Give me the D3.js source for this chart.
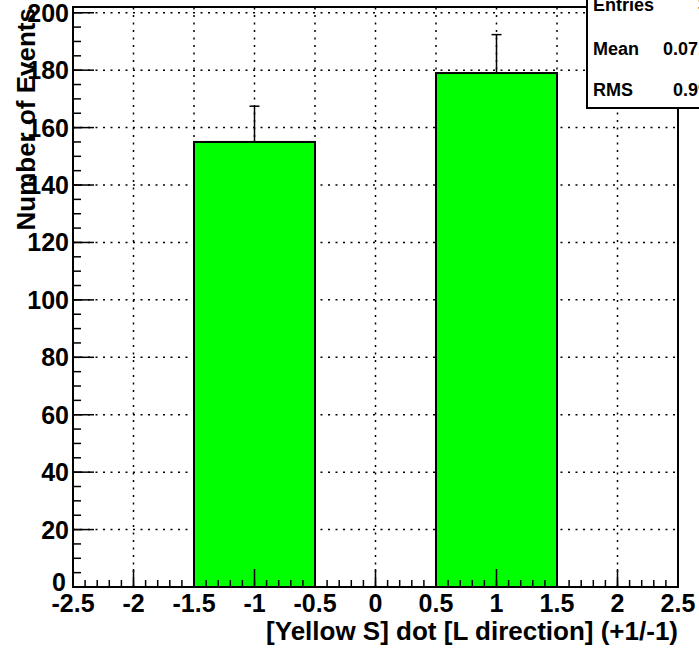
<!DOCTYPE html>
<html>
<head>
<meta charset="utf-8">
<script src="https://cdn.jsdelivr.net/npm/d3@7"></script>
<style>
  html, body { margin: 0; padding: 0; background: #fff; }
  svg { display: block; }
  text { font-family: "Liberation Sans", Arial, Helvetica, sans-serif; font-weight: bold; fill: #000; }
</style>
</head>
<body>
<svg id="chart" width="699" height="661"></svg>
<script>
// ---- data ----
const binLow    = [-2.5, -1.5, -0.5, 0.5, 1.5];
const binHigh   = [-1.5, -0.5,  0.5, 1.5, 2.5];
const counts    = [0, 155, 0, 179, 0];
const errors    = [0, 12.45, 0, 13.38, 0];
const xTicks    = [-2.5, -2, -1.5, -1, -0.5, 0, 0.5, 1, 1.5, 2, 2.5];
const xTickLabels = ["-2.5", "-2", "-1.5", "-1", "-0.5", "0", "0.5", "1", "1.5", "2", "2.5"];
const yTicks    = [0, 20, 40, 60, 80, 100, 120, 140, 160, 180, 200];
const statNames  = ["Entries", "Mean", "RMS"];
const statValues = ["334", "0.07186", "0.9974"];
const xTitle = "[Yellow S] dot [L direction] (+1/-1)";
const yTitle = "Number of Events";

// ---- layout ----
const svg = d3.select("#chart");
const L = 73, R = 678, T = 7, B = 587;
const x = d3.scaleLinear().domain([-2.5, 2.5]).range([L, R]);
const y = d3.scaleLinear().domain([0, 202]).range([B, T]);

// grid
const xMinor = d3.range(-2.5, 2.5001, 0.1);
const yMinor = d3.range(0, 201, 5);
const grid = svg.append("g").attr("stroke", "#000").attr("stroke-width", 1.5).attr("stroke-dasharray", "2,5.5");
grid.selectAll("line.gx").data(xTicks.slice(1, -1)).enter().append("line")
  .attr("x1", d => x(d)).attr("x2", d => x(d)).attr("y1", B).attr("y2", T);
grid.selectAll("line.gy").data(yTicks.slice(1)).enter().append("line")
  .attr("x1", L).attr("x2", R).attr("y1", d => y(d)).attr("y2", d => y(d));

// bars
const bins = counts.map((c, i) => ({lo: binLow[i], hi: binHigh[i], c, e: errors[i]})).filter(d => d.c > 0);
svg.append("g").selectAll("rect").data(bins).enter().append("rect")
  .attr("x", d => x(d.lo)).attr("y", d => y(d.c))
  .attr("width", d => x(d.hi) - x(d.lo)).attr("height", d => y(0) - y(d.c))
  .attr("fill", "#00ff00").attr("stroke", "#000").attr("stroke-width", 2);

// error bars
const eb = svg.append("g").attr("stroke", "#000").attr("stroke-width", 1.5);
bins.forEach(d => {
  const cx = x((d.lo + d.hi) / 2);
  eb.append("line").attr("x1", cx).attr("x2", cx).attr("y1", y(d.c)).attr("y2", y(d.c + d.e));
  eb.append("line").attr("x1", cx - 5).attr("x2", cx + 5).attr("y1", y(d.c + d.e)).attr("y2", y(d.c + d.e));
});

// frame
svg.append("rect").attr("x", L).attr("y", T).attr("width", R - L).attr("height", B - T)
  .attr("fill", "none").attr("stroke", "#000").attr("stroke-width", 2);

// ticks
const tk = svg.append("g").attr("stroke", "#000").attr("stroke-width", 1.5);
tk.selectAll("line.xm").data(xMinor).enter().append("line")
  .attr("x1", d => x(d)).attr("x2", d => x(d)).attr("y1", B).attr("y2", B - 7);
tk.selectAll("line.xM").data(xTicks).enter().append("line")
  .attr("x1", d => x(d)).attr("x2", d => x(d)).attr("y1", B).attr("y2", B - 18);
tk.selectAll("line.ym").data(yMinor).enter().append("line")
  .attr("x1", L).attr("x2", L + 8).attr("y1", d => y(d)).attr("y2", d => y(d));
tk.selectAll("line.yM").data(yTicks).enter().append("line")
  .attr("x1", L).attr("x2", L + 21).attr("y1", d => y(d)).attr("y2", d => y(d));

// tick labels
svg.append("g").selectAll("text").data(xTicks).enter().append("text")
  .attr("x", d => x(d)).attr("y", 612).attr("text-anchor", "middle")
  .attr("font-size", 25).text((d, i) => xTickLabels[i]);
svg.append("g").selectAll("text").data(yTicks).enter().append("text")
  .attr("x", d => d === 0 ? 66 : 69).attr("y", d => d === 0 ? y(d) + 4 : y(d) + 9).attr("text-anchor", "end")
  .attr("font-size", 25).text(d => d);

// axis titles
svg.append("text").attr("x", R).attr("y", 640).attr("text-anchor", "end")
  .attr("font-size", 26).text(xTitle);
svg.append("text").attr("transform", "translate(35,8) rotate(-90)").attr("text-anchor", "end")
  .attr("font-size", 26).text(yTitle);

// stats box
svg.append("rect").attr("x", 587).attr("y", -30).attr("width", 150).attr("height", 138)
  .attr("fill", "#fff").attr("stroke", "#000").attr("stroke-width", 2);
const st = svg.append("g");
const statY = [11, 55, 96];
statNames.forEach((n, i) => {
  st.append("text").attr("x", 593).attr("y", statY[i]).attr("font-size", 18).text(n);
  st.append("text").attr("x", 728).attr("y", statY[i]).attr("text-anchor", "end").attr("font-size", 18).text(statValues[i]);
});
</script>
</body>
</html>
